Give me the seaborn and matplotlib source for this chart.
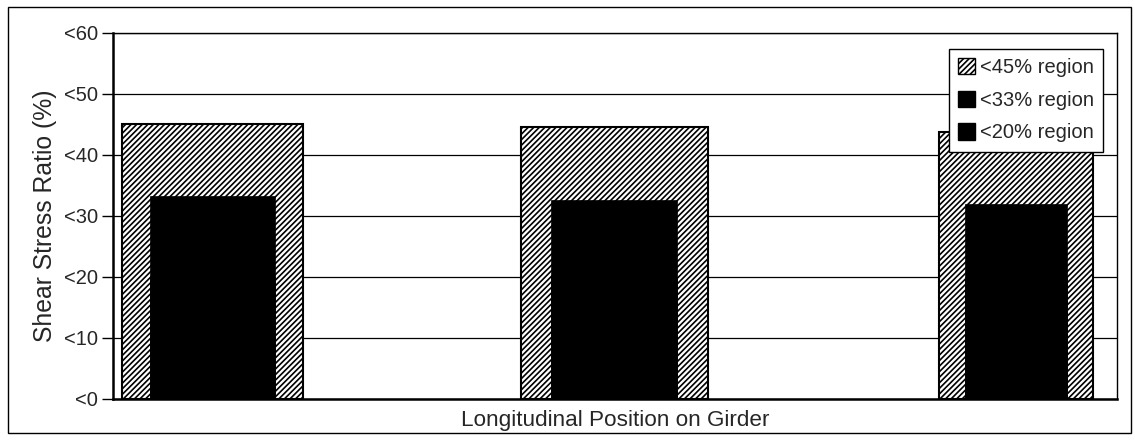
import matplotlib
matplotlib.use("Agg")
import matplotlib.pyplot as plt
from matplotlib.patches import Patch, Rectangle
import seaborn as sns
import pandas as pd

# Data: shear stress ratio regions at three longitudinal positions
positions = ["1", "2", "3"]
region45 = [45.0, 44.5, 43.7]
region33 = [33.3, 32.6, 31.9]
region20 = [20.0, 20.0, 20.0]
y_ticks = [0, 10, 20, 30, 40, 50, 60]
y_tick_labels = ["<0", "<10", "<20", "<30", "<40", "<50", "<60"]
legend_labels = ["<45% region", "<33% region", "<20% region"]

sns.set_style("white")
plt.rcParams["font.family"] = ["Liberation Sans", "DejaVu Sans"]
plt.rcParams["hatch.linewidth"] = 1.2

fig = plt.figure(figsize=(11.35, 4.45), dpi=100)
ax = fig.add_axes([0.0996, 0.1034, 0.8846, 0.8226])

outer_w = [0.451, 0.466, 0.383]
inner_w = [0.311, 0.314, 0.254]


def draw_layer(values, widths, **kw):
    n_before = len(ax.patches)
    df = pd.DataFrame({"pos": positions, "val": values})
    sns.barplot(data=df, x="pos", y="val", ax=ax, errorbar=None,
                saturation=1, **kw)
    for p, w in zip(ax.patches[n_before:], widths):
        cx = p.get_x() + p.get_width() / 2
        p.set_width(w)
        p.set_x(cx - w / 2)


draw_layer(region45, outer_w, color="white", edgecolor="black",
           linewidth=1.5, hatch="//////", zorder=2)
draw_layer(region20, inner_w, color="black", edgecolor="black",
           linewidth=0.5, zorder=3)
draw_layer(region33, inner_w, color="black", edgecolor="black",
           linewidth=0.5, zorder=4)

ax.set_xlim(-0.248, 2.252)
ax.set_ylim(0, 60)
ax.set_yticks(y_ticks)
ax.set_yticklabels(y_tick_labels, fontsize=14.5)
ax.set_xticks([])
ax.yaxis.grid(True, color="black", linewidth=0.9)
ax.set_axisbelow(True)
ax.tick_params(axis="y", direction="out", length=8, width=1.0,
               color="black", left=True, pad=3)
for side, sp in ax.spines.items():
    sp.set_visible(True)
    sp.set_color("black")
    sp.set_linewidth(1.0)
ax.spines["left"].set_linewidth(1.8)
ax.spines["bottom"].set_linewidth(1.8)

ax.set_ylabel("Shear Stress Ratio (%)", fontsize=17.8, labelpad=5)
ax.set_xlabel("Longitudinal Position on Girder", fontsize=16.2, labelpad=8)

handles = [
    Patch(facecolor="white", edgecolor="black", hatch="//////", linewidth=1.0),
    Patch(facecolor="black", edgecolor="black"),
    Patch(facecolor="black", edgecolor="black"),
]
leg = ax.legend(handles, legend_labels, loc="upper right",
                bbox_to_anchor=(0.986, 0.956), fontsize=14.5,
                frameon=True, fancybox=False, framealpha=1,
                edgecolor="black", handlelength=0.85, handleheight=0.85,
                handletextpad=0.25, labelspacing=0.68, borderpad=0.45,
                borderaxespad=0)
leg.get_frame().set_linewidth(1.0)
leg.set_zorder(10)

# Outer frame around the whole figure
fig.patches.append(Rectangle((8 / 1135, 1 - 433 / 445), 1123 / 1135,
                             426 / 445, transform=fig.transFigure,
                             fill=False, edgecolor="black", linewidth=1.0))

fig.savefig("out.png", dpi=100)
